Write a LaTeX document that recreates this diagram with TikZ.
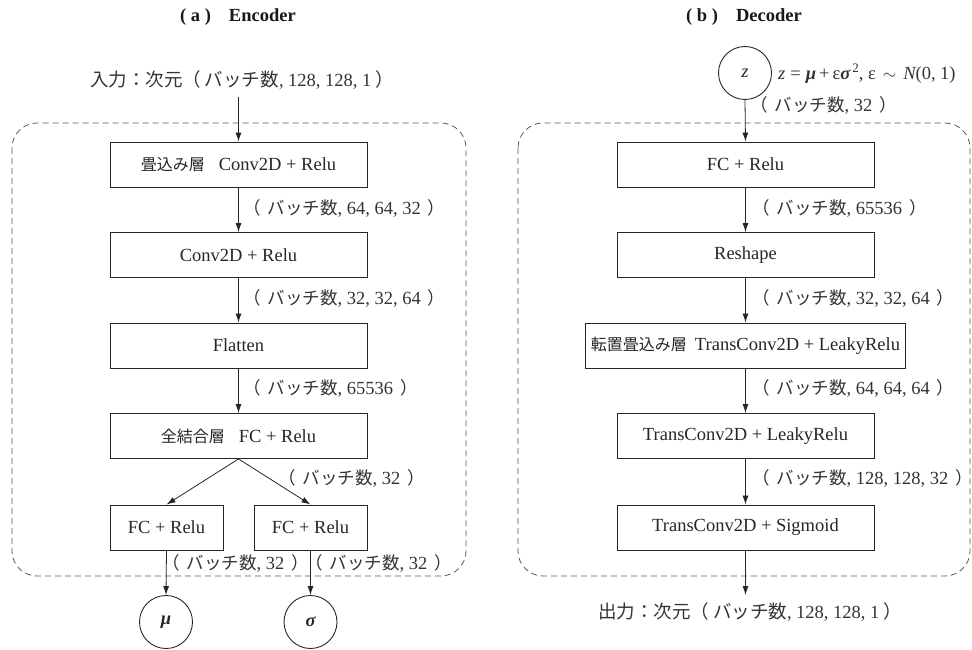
\documentclass[tikz,border=0pt]{standalone}
\usepackage{fontspec}
\setmainfont{Liberation Serif}
\newfontfamily\jp{Noto Sans CJK JP}
\usetikzlibrary{arrows.meta}
\newcommand{\Jb}[1]{{\jp\fontsize{16}{18}\selectfont #1}}
\newcommand{\Jl}[1]{{\jp\fontsize{17.5}{19}\selectfont #1}}
\newcommand{\Ji}[1]{{\jp\fontsize{18.5}{20}\selectfont #1}}
\newcommand{\dimlab}[1]{\Jl{（}\hspace{7pt}\Jl{バッチ数}, #1\hspace{7pt}\Jl{）}}
\tikzset{
  blk/.style={draw=black!85, line width=0.9pt, minimum width=257pt, minimum height=45pt, inner sep=0pt, text=black!85},
  sblk/.style={blk, minimum width=113pt},
  var/.style={draw=black!85, circle, line width=0.9pt, minimum size=53pt, inner sep=0pt, text=black!85},
  arr/.style={-{Latex[length=9pt,width=6pt]}, line width=0.8pt, draw=black!85},
  lbl/.style={anchor=west, inner sep=0pt, text=black!80},
  grp/.style={draw=black!65, dash pattern=on 6pt off 4pt, rounded corners=25pt, line width=0.8pt},
  ttl/.style={font=\fontsize{18.5}{22}\selectfont\bfseries, text=black!90}
}
\begin{document}
\begin{tikzpicture}[x=1pt, y=-1pt, font=\fontsize{18.5}{22}\selectfont]
\useasboundingbox (0,0) rectangle (972,650);
% groups
\draw[grp] (12,123) rectangle (466,576);
\draw[grp] (518,123) rectangle (970,576);
% titles
\node[ttl] (ta) at (238,17) {( a )\hspace{18pt}Encoder};
\node[ttl] (tb) at (744,17) {( b )\hspace{18pt}Decoder};
% ---------------- Encoder
\node[text=black!80] (in) at (242,80) {\Ji{入力：次元（}\hspace{4pt}\Ji{バッチ数}, 128, 128, 1\hspace{4pt}\Ji{）}};
\coordinate (inS) at (238.5,97);
\node[blk] (e1) at (238.5,164.5) {\Jb{畳込み層}\hspace{14pt}Conv2D + Relu};
\node[blk] (e2) at (238.5,255) {Conv2D + Relu};
\node[blk] (e3) at (238.5,345.5) {Flatten};
\node[blk] (e4) at (238.5,436) {\Jb{全結合層}\hspace{14pt}FC + Relu};
\node[sblk] (fl) at (166.5,527.5) {FC + Relu};
\node[sblk] (fr) at (310.5,527.5) {FC + Relu};
\node[var] (mu) at (166,622) {\bfseries\itshape μ};
\node[var] (sg) at (310.5,622) {\bfseries\itshape σ};
\draw[arr] (inS) -- (e1.north);
\draw[arr] (e1.south) -- (e2.north);
\draw[arr] (e2.south) -- (e3.north);
\draw[arr] (e3.south) -- (e4.north);
\draw[arr] (e4.south) -- (fl.north);
\draw[arr] (e4.south) -- (fr.north);
\draw[arr] (fl.south) -- (mu.north);
\draw[arr] (fr.south) -- (sg.north);
\node[lbl] (l1) at (243,208) {\dimlab{64, 64, 32}};
\node[lbl] (l2) at (243,298) {\dimlab{32, 32, 64}};
\node[lbl] (l3) at (243,388) {\dimlab{65536}};
\node[lbl] (l4) at (278,478) {\dimlab{32}};
\node[lbl] (l5) at (162,563) {\dimlab{32}};
\node[lbl] (l6) at (305,563) {\dimlab{32}};
% ---------------- Decoder
\node[var] (z) at (745,73) {\itshape z};
\node[lbl] (eq) at (778,74) {{\itshape z}\hspace{5pt}=\hspace{5pt}{\bfseries\itshape μ}\hspace{3pt}+\hspace{3pt}ε{\bfseries\itshape σ}\hspace{2pt}\raisebox{7pt}{\fontsize{13}{13}\selectfont 2}, ε\hspace{7pt}$\sim$\hspace{7pt}{\itshape N}(0, 1)};
\node[blk] (d1) at (745.5,164.5) {FC + Relu};
\node[blk] (d2) at (745.5,255) {Reshape};
\node[blk, minimum width=320pt] (d3) at (745.5,345.5) {\Jb{転置畳込み層}\hspace{8pt}TransConv2D + LeakyRelu};
\node[blk] (d4) at (745.5,436) {TransConv2D + LeakyRelu};
\node[blk] (d5) at (745.5,527.5) {TransConv2D + Sigmoid};
\coordinate (outN) at (745.5,595);
\node[text=black!80] (out) at (750,612) {\Ji{出力：次元（}\hspace{4pt}\Ji{バッチ数}, 128, 128, 1\hspace{4pt}\Ji{）}};
\draw[arr] (z.south) -- (d1.north);
\draw[arr] (d1.south) -- (d2.north);
\draw[arr] (d2.south) -- (d3.north);
\draw[arr] (d3.south) -- (d4.north);
\draw[arr] (d4.south) -- (d5.north);
\draw[arr] (d5.south) -- (outN);
\node[lbl] (m0) at (750,105) {\dimlab{32}};
\node[lbl] (m1) at (752,208) {\dimlab{65536}};
\node[lbl] (m2) at (752,298) {\dimlab{32, 32, 64}};
\node[lbl] (m3) at (752,388) {\dimlab{64, 64, 64}};
\node[lbl] (m4) at (752,478) {\dimlab{128, 128, 32}};
\end{tikzpicture}
\end{document}
